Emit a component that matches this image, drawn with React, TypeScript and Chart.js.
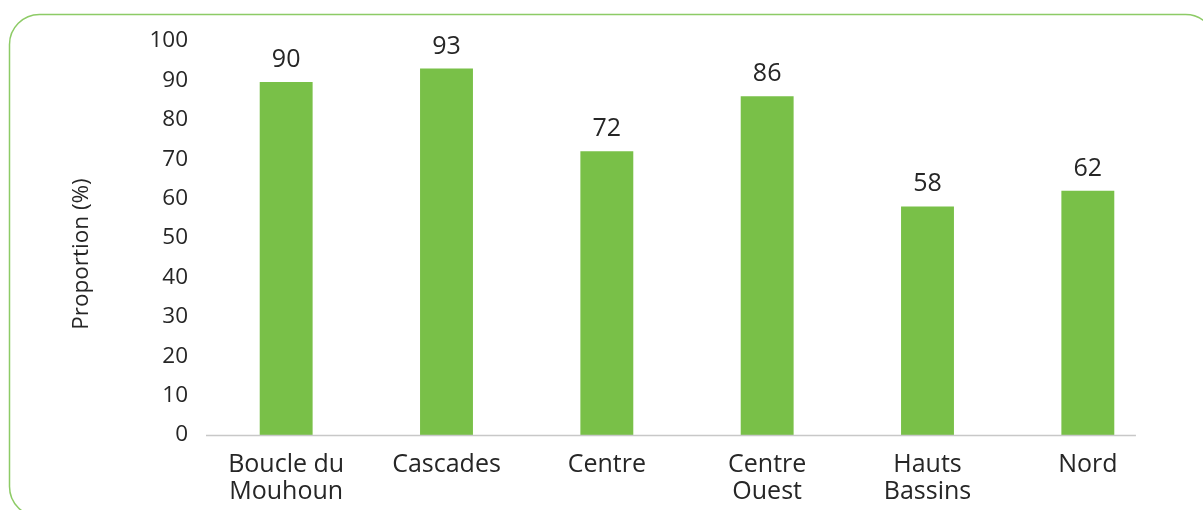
import React, { useEffect, useRef } from "react";
import { Chart, registerables } from "chart.js";

Chart.register(...registerables);

const categories: (string | string[])[] = [
  ["Boucle du", "Mouhoun"],
  "Cascades",
  "Centre",
  ["Centre", "Ouest"],
  ["Hauts", "Bassins"],
  "Nord",
];
const proportions: number[] = [89.6, 93, 72, 86, 58, 62];
const yTicks: number[] = [0, 10, 20, 30, 40, 50, 60, 70, 80, 90, 100];
const yTitle = "Proportion (%)";

const FONT = "'Open Sans', 'Noto Sans', sans-serif";
const TEXT = "#262626";
const BAR = "#79C048";
const FRAME = "#8DCB66";
const AXIS = "#C8C8C8";

const framePlugin = {
  id: "frame",
  beforeDraw(chart: any) {
    const { ctx } = chart;
    ctx.save();
    ctx.strokeStyle = FRAME;
    ctx.lineWidth = 1.5;
    const x = 9.5, y = 14.5, w = 1206, h = 502, r = 30;
    ctx.beginPath();
    ctx.moveTo(x + r, y);
    ctx.lineTo(x + w - r, y);
    ctx.arcTo(x + w, y, x + w, y + r, r);
    ctx.lineTo(x + w, y + h - r);
    ctx.arcTo(x + w, y + h, x + w - r, y + h, r);
    ctx.lineTo(x + r, y + h);
    ctx.arcTo(x, y + h, x, y + h - r, r);
    ctx.lineTo(x, y + r);
    ctx.arcTo(x, y, x + r, y, r);
    ctx.closePath();
    ctx.stroke();
    ctx.restore();
  },
};

const axisLinePlugin = {
  id: "axisLine",
  afterDatasetsDraw(chart: any) {
    const { ctx, chartArea } = chart;
    const xs = chart.scales.x;
    const step = (chartArea.right - chartArea.left) / categories.length;
    ctx.save();
    ctx.strokeStyle = AXIS;
    ctx.lineWidth = 1.5;
    ctx.beginPath();
    ctx.moveTo(chartArea.left, chartArea.bottom + 0.5);
    ctx.lineTo(xs.getPixelForValue(categories.length - 1) + step * 0.3, chartArea.bottom + 0.5);
    ctx.stroke();
    ctx.restore();
  },
};

const textPlugin = {
  id: "texts",
  afterDatasetsDraw(chart: any) {
    const { ctx, chartArea } = chart;
    const meta = chart.getDatasetMeta(0);
    ctx.save();
    ctx.fillStyle = TEXT;
    ctx.font = `25px ${FONT}`;
    ctx.textAlign = "center";
    ctx.textBaseline = "alphabetic";
    meta.data.forEach((bar: any, i: number) => {
      ctx.fillText(String(Math.round(proportions[i])), bar.x, bar.y - 15);
    });
    // y-axis title
    ctx.font = `22.5px ${FONT}`;
    ctx.textBaseline = "middle";
    ctx.translate(82, (chartArea.top + chartArea.bottom) / 2 + 16);
    ctx.rotate(-Math.PI / 2);
    ctx.fillText(yTitle, 0, 0);
    ctx.restore();
  },
};

export default function App() {
  const ref = useRef<HTMLCanvasElement | null>(null);

  useEffect(() => {
    if (!ref.current) return;
    const chart = new Chart(ref.current, {
      type: "bar",
      data: {
        labels: categories,
        datasets: [
          {
            data: proportions,
            backgroundColor: BAR,
            borderWidth: 0,
            categoryPercentage: 1,
            barPercentage: 0.33,
          },
        ],
      },
      options: {
        responsive: false,
        animation: false,
        devicePixelRatio: 1,
        layout: { padding: { left: 0, right: 35, top: 41, bottom: 0 } },
        plugins: {
          legend: { display: false },
          tooltip: { enabled: false },
          title: { display: false },
        },
        scales: {
          y: {
            min: 0,
            max: 100,
            grid: { display: false, drawTicks: false },
            border: { display: false },
            afterBuildTicks: (scale: any) => {
              scale.ticks = yTicks.map((v) => ({ value: v }));
            },
            afterFit: (scale: any) => {
              scale.width = 206;
            },
            ticks: {
              color: TEXT,
              font: { family: FONT, size: 22.5 },
              padding: 18,
            },
          },
          x: {
            grid: { display: false, drawTicks: false },
            border: { display: false },
            afterFit: (scale: any) => {
              scale.height = 75;
            },
            ticks: {
              color: TEXT,
              font: { family: FONT, size: 25, lineHeight: 1.05 },
              padding: 17,
              maxRotation: 0,
              autoSkip: false,
            },
          },
        },
      },
      plugins: [framePlugin, axisLinePlugin, textPlugin],
    });
    return () => chart.destroy();
  }, []);

  return (
    <div
      style={{
        position: "fixed",
        left: 0,
        top: 0,
        width: 1203,
        height: 510,
        overflow: "hidden",
        background: "#fff",
      }}
    >
      <canvas ref={ref} width={1203} height={510} style={{ display: "block" }} />
    </div>
  );
}
